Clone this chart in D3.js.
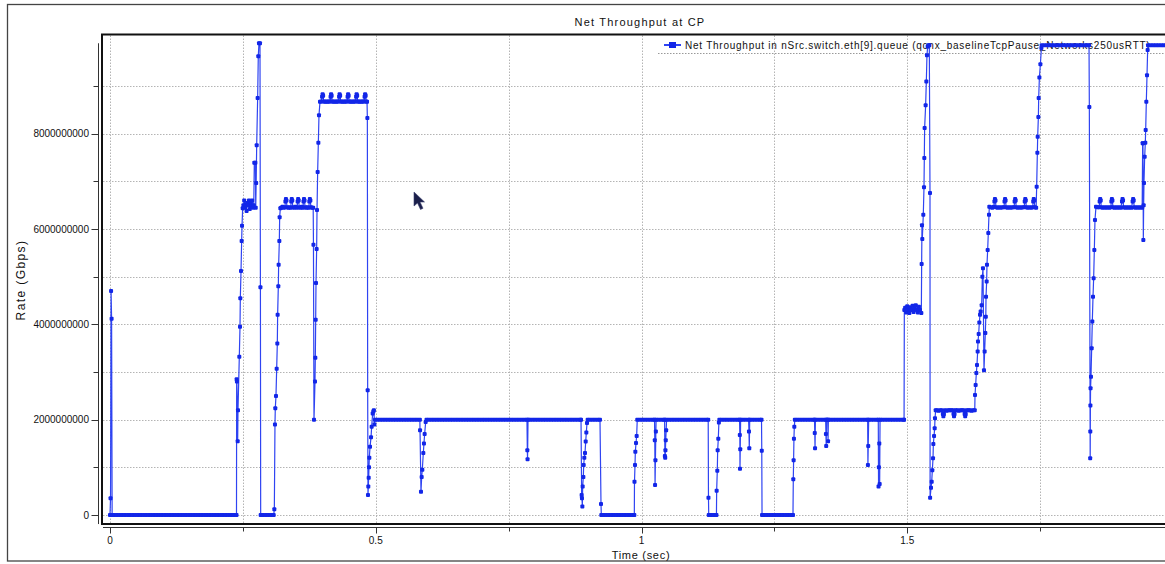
<!DOCTYPE html>
<html>
<head>
<meta charset="utf-8">
<script src="https://cdn.jsdelivr.net/npm/d3@7"></script>
<style>
  html, body { margin: 0; padding: 0; background: #fff; overflow: hidden; }
  svg { display: block; }
  text { font-family: "Liberation Sans", Arial, sans-serif; fill: #111; }
</style>
</head>
<body>
<svg id="chart" width="1165" height="564"></svg>
<script>
// Net throughput samples at the congestion point: [time (ms), rate (Gbps)]
const phaseStartup = [[0,0],[1,0.35],[2,4.7],[3,4.12],[4,0],[8,0],[13,0],[18,0],[23,0],[28,0],[33,0],[38,0],[43,0],[48,0],[53,0],[58,0],[63,0],[68,0],[73,0],[78,0],[83,0],[88,0],[93,0],[98,0],[103,0],[108,0],[113,0],[118,0],[123,0],[128,0],[133,0],[138,0],[143,0],[148,0],[153,0],[158,0],[163,0],[168,0],[173,0],[178,0],[183,0],[188,0],[193,0],[198,0],[203,0],[208,0],[213,0],[218,0],[223,0],[228,0],[233,0],[238,0]];

const phaseFirstRise = [[238.3,2.85],[238.8,2.8],[240.2,1.55],[240.8,2.2],[243.3,3.32],[244.6,3.95],[245.2,4.55],[246.5,5.12],[247.7,5.75],[248.4,6.07],[249.6,6.44],[251,6.5],[252.5,6.6],[254,6.45],[255.5,6.52],[257,6.38],[258.5,6.55],[260,6.5],[261.5,6.6],[263,6.42],[264.5,6.55],[266,6.48],[267.5,6.6],[269,6.45],[270.5,6.5],[271.5,7.39],[273.5,7.39],[274.2,6.45],[275,6.97],[276,7.76],[277.8,8.75],[279,9.63],[280.3,9.9],[282.2,9.9],[283,4.78],[283.5,0],[288,0],[293,0],[298,0],[303,0],[308,0]];

const phaseSecondRise = [[309.2,0.12],[310.4,1.9],[311,2.24],[312.3,2.5],[313.6,3.07],[314.8,3.6],[315.4,4.2],[316.7,4.8],[317.3,5.25],[318.6,5.75],[319.2,6.25],[320.5,6.44],
  [322,6.45],[324.5,6.47],[327,6.45],[329,6.46],[330,6.58],[331,6.63],[332,6.6],[333,6.46],[335.5,6.45],[338,6.46],[340,6.45],[341,6.58],[342,6.63],[343,6.6],[344,6.46],[346.5,6.45],[349,6.47],[352,6.45],[353,6.58],[354,6.63],[355,6.6],[356,6.46],[358.5,6.45],[361,6.47],[363,6.45],[364,6.58],[365,6.63],[366,6.6],[367,6.46],[369.5,6.45],[372,6.46],[374,6.45],[375,6.58],[376,6.63],[377,6.6],[378,6.46],[380.5,6.45],[382.3,6.45],
  [382.8,5.67],[383.8,2.0],[385.7,2.8],[386.3,3.3],[387,4.1],[387.6,4.87],[388.8,5.58],[389.5,6.4],[390.7,7.2],[392,7.81],[393.2,8.39],[395.1,8.67],
  [397.5,8.68],[399,8.78],[400,8.83],[401,8.8],[402,8.68],[404.5,8.67],[407,8.68],[409.5,8.67],[412,8.68],[414,8.68],[415,8.78],[416,8.83],[417,8.8],[418,8.68],[420.5,8.67],[423,8.68],[425.5,8.67],[428,8.68],[430,8.68],[431,8.78],[432,8.83],[433,8.8],[434,8.68],[436.5,8.67],[439,8.68],[441.5,8.67],[444,8.68],[446,8.68],[447,8.78],[448,8.83],[449,8.8],[450,8.68],[452.5,8.67],[455,8.68],[457.5,8.67],[460,8.68],[462,8.68],[463,8.78],[464,8.83],[465,8.8],[466,8.68],[468.5,8.67],[471,8.68],[473.5,8.67],[476,8.68],[478,8.68],[479,8.78],[480,8.83],[481,8.8],[482,8.68],[483.6,8.67],
  [484.2,8.33],[484.8,2.62],[485.4,0.42],[486,0.6],[486.7,0.78],[487.3,1.0],[487.9,1.2],[489.2,1.43],[491.1,1.63],[492.3,1.85],[494.2,2.13],[495.5,2.17],[496.5,2.2],[497.5,1.9],[498.6,2.0]];

const phaseSteady = [[503,2],[508,2],[513,2],[518,2],[523,2],[528,2],[533,2],[538,2],[543,2],[548,2],[553,2],[558,2],[563,2],[568,2],[573,2],[578,2],[583,2],
  [583.3,1.78],[585.1,0.49],[586.4,0.8],[587.6,0.95],[589.5,1.3],[590.7,1.5],[592,1.7],[593.9,1.95],[595.5,2],
  [600,2],[605,2],[610,2],[615,2],[620,2],[625,2],[630,2],[635,2],[640,2],[645,2],[650,2],[655,2],[660,2],[665,2],[670,2],[675,2],[680,2],[685,2],[690,2],[695,2],[700,2],[705,2],[710,2],[715,2],[720,2],[725,2],[730,2],[735,2],[740,2],[745,2],[750,2],[755,2],[760,2],[765,2],[770,2],[775,2],[780,2],[784.5,2],
  [785.2,1.36],[785.6,1.17],[786.5,2],
  [790,2],[795,2],[800,2],[805,2],[810,2],[815,2],[820,2],[825,2],[830,2],[835,2],[840,2],[845,2],[850,2],[855,2],[860,2],[865,2],[870,2],[875,2],[880,2],[885,2],[886.2,2],
  [887.4,0.42],[888,0.35],[888.7,0.18],[889.3,0.6],[890.6,0.8],[891.2,1.05],[892.4,1.2],[893.7,1.3],[895,1.54],[896.2,1.73],[897.5,1.93],[898.7,2],
  [903,2],[908,2],[913,2],[918,2],[921.9,2],[923.8,0.23],[924.4,0],
  [929,0],[934,0],[939,0],[944,0],[949,0],[954,0],[959,0],[964,0],[969,0],[974,0],[979,0],[984,0],[986.5,0],
  [986.8,0.7],[987.8,1.05],[988.4,1.33],[989.7,1.51],[990.9,1.66],[992,2],
  [997,2],[1002,2],[1007,2],[1012,2],[1017,2],[1022,2],[1024.5,2],
  [1025,1.57],[1025.5,0.63],[1026.2,1.15],[1027,1.75],[1027.5,2],[1032,2],[1037,2],[1042,2],[1043.5,2],
  [1044,1.24],[1044.6,1.2],[1045,1.36],[1045.6,1.57],[1046.4,1.78],[1047.2,2],
  [1052,2],[1057,2],[1062,2],[1067,2],[1072,2],[1077,2],[1082,2],[1087,2],[1092,2],[1097,2],[1102,2],[1107,2],[1112,2],[1117,2],[1122,2],[1125.5,2],
  [1126,0.36],[1126.5,0],[1131,0],[1136,0],[1141,0],
  [1141.4,0.51],[1142.6,0.93],[1143.3,1.36],[1144.5,1.6],[1145.6,1.94],[1146.5,2],
  [1151,2],[1156,2],[1161,2],[1166,2],[1171,2],[1176,2],[1181,2],[1184.5,2],
  [1185,1.68],[1185.3,0.97],[1185.8,1.38],[1186.5,2],[1191,2],[1196,2],[1201.5,2],
  [1202.2,1.75],[1202.8,1.4],[1203.6,2],[1208,2],[1213,2],[1218,2],[1223,2],[1225.8,2],
  [1226.3,1.35],[1226.8,0],[1231,0],[1236,0],[1241,0],[1246,0],[1251,0],[1256,0],[1261,0],[1266,0],[1271,0],[1276,0],[1281,0],[1285,0],
  [1285.6,0.75],[1286.2,1.15],[1286.8,1.6],[1287.5,1.85],[1288.5,2],
  [1293,2],[1298,2],[1303,2],[1308,2],[1313,2],[1318,2],[1323,2],[1325.5,2],[1326,1.72],[1326.5,1.4],[1327.2,2],
  [1332,2],[1337,2],[1342,2],[1346.5,2],[1347,1.7],[1347.5,1.45],[1348.2,2],[1350.5,2],[1351,1.55],[1351.6,2],
  [1356,2],[1361,2],[1366,2],[1371,2],[1376,2],[1381,2],[1386,2],[1391,2],[1396,2],[1401,2],[1406,2],[1411,2],[1416,2],[1421,2],[1425.5,2],
  [1426,1.05],[1426.6,1.45],[1427.4,2],[1432,2],[1437,2],[1442,2],[1445.5,2],
  [1446,0.6],[1446.6,1.0],[1447.4,1.5],[1448.1,0.65],[1448.8,2],
  [1453,2],[1458,2],[1463,2],[1468,2],[1473,2],[1478,2],[1483,2],[1488,2],[1493,2],[1494,2]];

const phaseLate = [[1494.5,4.3],[1496,4.35],[1498,4.25],[1500,4.38],[1502,4.3],[1504,4.24],[1506,4.36],[1508,4.3],[1510,4.39],[1512,4.26],[1514,4.33],[1516,4.4],[1518,4.3],[1520,4.25],[1522,4.37],[1524,4.3],[1526.5,4.24],
  [1527.1,5.27],[1527.7,6.08],[1528.3,5.79],[1530.2,6.3],[1531.5,6.88],[1532.1,7.49],[1532.7,8.12],[1534.6,8.6],[1535.9,9.1],[1537.1,9.65],[1538.4,9.83],[1540.3,9.86],[1541.5,9.86],
  [1542.8,6.76],[1543,0.36],[1544.7,0.57],[1546,0.7],[1547.2,0.94],[1548.5,1.19],[1549.1,1.49],[1550.4,1.66],[1551.6,1.82],[1552.2,2.03],[1553.5,2.2],
  [1556,2.2],[1559,2.19],[1562,2.2],[1565,2.2],[1567,2.12],[1568,2.07],[1569,2.12],[1571,2.2],[1574,2.19],[1577,2.2],[1580,2.2],[1583,2.2],[1586,2.2],[1587,2.12],[1588,2.07],[1589,2.12],[1591,2.2],[1594,2.2],[1597,2.19],[1600,2.2],[1603,2.2],[1606,2.2],[1608,2.12],[1609,2.07],[1610,2.12],[1612,2.2],[1615,2.2],[1618,2.2],[1621,2.19],[1624,2.2],[1627,2.2],
  [1627.5,2.52],[1628.7,2.73],[1630,2.98],[1631.2,3.15],[1632.5,3.43],[1633.1,3.64],[1634.4,3.8],[1635.6,4.04],[1636.9,4.2],[1638.1,4.27],[1640,4.4],[1641.3,5.0],[1642.5,5.18],[1644.4,3.04],[1645.6,3.43],[1646.9,3.82],[1647.8,4.16],[1648.2,4.58],[1649.4,4.9],[1650,5.25],[1651.3,5.56],[1652.5,5.92],[1653.8,6.3],[1654.4,6.47],
  [1657,6.46],[1660,6.45],[1663,6.47],[1664,6.58],[1665,6.63],[1666,6.6],[1667,6.46],[1670,6.45],[1673,6.46],[1676,6.45],[1679,6.46],[1682,6.46],[1683,6.58],[1684,6.63],[1685,6.6],[1686,6.46],[1689,6.45],[1692,6.46],[1695,6.45],[1698,6.46],[1701,6.46],[1702,6.58],[1703,6.63],[1704,6.6],[1705,6.46],[1708,6.45],[1711,6.46],[1714,6.45],[1717,6.46],[1720,6.46],[1721,6.58],[1722,6.63],[1723,6.6],[1724,6.46],[1727,6.45],[1730,6.46],[1733,6.45],[1736,6.46],[1737,6.58],[1738,6.63],[1739,6.6],[1740,6.46],[1742.5,6.45],
  [1743.5,6.89],[1744.8,7.6],[1745.4,7.94],[1746.7,8.35],[1747.3,8.75],[1748.6,9.18],[1750.5,9.46],[1752.4,9.8],[1753,9.86],
  [1758,9.86],[1763,9.86],[1768,9.86],[1773,9.86],[1778,9.86],[1783,9.86],[1788,9.86],[1793,9.86],[1798,9.86],[1803,9.86],[1808,9.86],[1813,9.86],[1818,9.86],[1823,9.86],[1828,9.86],[1833,9.86],[1838,9.86],[1842,9.86],
  [1842.6,8.56],[1844.2,1.19],[1844.4,1.75],[1844.6,2.3],[1844.9,2.66],[1845.7,2.9],[1847,3.5],[1848.2,4.06],[1849.5,4.58],[1850.7,4.97],[1852,5.56],[1853.2,6.19],[1855.1,6.47],
  [1858,6.46],[1861,6.46],[1862,6.58],[1863,6.63],[1864,6.6],[1865,6.46],[1868,6.45],[1871,6.46],[1874,6.45],[1877,6.46],[1880,6.45],[1883,6.46],[1884,6.58],[1885,6.63],[1886,6.6],[1887,6.46],[1890,6.45],[1893,6.46],[1896,6.45],[1899,6.46],[1902,6.45],[1904,6.58],[1905,6.63],[1906,6.6],[1907,6.46],[1910,6.45],[1913,6.46],[1916,6.45],[1919,6.46],[1922,6.45],[1924,6.58],[1925,6.63],[1926,6.6],[1927,6.46],[1930,6.45],[1933,6.46],[1936,6.45],[1939,6.46],[1942,6.45],
  [1942.9,7.8],[1943.5,7.8],[1944.2,5.77],[1944.8,6.5],[1945.4,6.97],[1946.7,7.52],[1947.9,7.81],[1948.6,8.08],[1949.8,8.67],[1951.1,9.23],[1952.3,9.76],[1953,9.86],
  [1958,9.86],[1963,9.86],[1968,9.86],[1973,9.86],[1978,9.86],[1983,9.86],[1988,9.86],[1993,9.86]];

// Axis ticks and labels
const xMajorTicks = [0, 500, 1000, 1500];
const xMajorLabels = ["0", "0.5", "1", "1.5"];
const xMinorTicks = [250, 750, 1250, 1750];
const yMajorTicks = [0, 2, 4, 6, 8];
const yMajorLabels = ["0", "2000000000", "4000000000", "6000000000", "8000000000"];
const yMinorTicks = [1, 3, 5, 7, 9];
const yGridLevels = [0, 1, 2, 3, 4, 5, 6, 7, 8, 9];
const xGridTimes = [0, 250, 500, 750, 1000, 1250, 1500, 1750];

const chartTitle = "Net Throughput at CP";
const seriesName = "Net Throughput in nSrc.switch.eth[9].queue (qcnx_baselineTcpPause_Networks250usRTT)";
const xTitle = "Time (sec)";
const yTitle = "Rate (Gbps)";

const series = [].concat(phaseStartup, phaseFirstRise, phaseSecondRise, phaseSteady, phaseLate);

// ---- layout ----
const svg = d3.select("#chart");
const plot = { left: 102, top: 34.5, right: 1200, bottom: 524 };
const x = d3.scaleLinear().domain([0, 2000]).range([110, 1173]);
const y = d3.scaleLinear().domain([0, 10]).range([515, 38.5]);
const axisExtent = [-0.19, 9.9];

const lineColor = "#2f44f2";
const markColor = "#1226e8";

// outer panel border
svg.append("rect")
  .attr("x", 7.5).attr("y", 4.5).attr("width", 1175).attr("height", 556.5)
  .attr("fill", "none").attr("stroke", "#444").attr("stroke-width", 1.3);

// title
svg.append("text")
  .attr("x", 640).attr("y", 25.5).attr("text-anchor", "middle")
  .style("font-size", "11px").style("letter-spacing", "1.2px")
  .text(chartTitle);

// grid
const grid = svg.append("g").attr("stroke", "#b4b4b4").attr("stroke-width", 1).attr("stroke-dasharray", "1.5,1.5");
grid.selectAll("line.h").data(yGridLevels).join("line")
  .attr("x1", plot.left + 1).attr("x2", plot.right)
  .attr("y1", d => Math.round(y(d)) + 0.5).attr("y2", d => Math.round(y(d)) + 0.5);
grid.selectAll("line.v").data(xGridTimes).join("line")
  .attr("y1", plot.top + 1).attr("y2", plot.bottom - 1)
  .attr("x1", d => Math.round(x(d)) + 0.5).attr("x2", d => Math.round(x(d)) + 0.5);

// legend (sits under the data)
const legend = svg.append("g");
legend.append("line").attr("x1", 658).attr("x2", 1200).attr("y1", 53.5).attr("y2", 53.5)
  .attr("stroke", "#999").attr("stroke-dasharray", "1.5,1.5");
legend.append("line").attr("x1", 664).attr("x2", 681).attr("y1", 45).attr("y2", 45)
  .attr("stroke", lineColor).attr("stroke-width", 2);
legend.append("rect").attr("x", 669).attr("y", 42).attr("width", 7).attr("height", 6)
  .attr("fill", markColor);
legend.append("text").attr("x", 685).attr("y", 48.5)
  .style("font-size", "10px").style("letter-spacing", "0.75px")
  .text(seriesName);

// data
svg.append("clipPath").attr("id", "plotClip").append("rect")
  .attr("x", plot.left + 1).attr("y", plot.top + 1)
  .attr("width", plot.right - plot.left).attr("height", plot.bottom - plot.top - 2);
const dataLayer = svg.append("g").attr("clip-path", "url(#plotClip)");
dataLayer.append("path")
  .datum(series)
  .attr("fill", "none").attr("stroke", lineColor).attr("stroke-width", 1.2)
  .attr("stroke-linejoin", "round")
  .attr("d", d3.line().x(d => x(d[0])).y(d => y(d[1])));
dataLayer.selectAll("rect.pt").data(series).join("rect")
  .attr("class", "pt")
  .attr("x", d => x(d[0]) - 2).attr("y", d => y(d[1]) - 2)
  .attr("width", 4).attr("height", 4).attr("rx", 1)
  .attr("fill", markColor);

// plot frame
svg.append("rect")
  .attr("x", plot.left).attr("y", plot.top)
  .attr("width", plot.right - plot.left).attr("height", plot.bottom - plot.top)
  .attr("fill", "none").attr("stroke", "#111").attr("stroke-width", 2);

// y axis
const yAxisX = 98.5;
const yAxis = svg.append("g").attr("stroke", "#333");
yAxis.append("line").attr("x1", yAxisX).attr("x2", yAxisX)
  .attr("y1", y(axisExtent[1])).attr("y2", y(axisExtent[0]));
yAxis.selectAll("line.maj").data(yMajorTicks).join("line")
  .attr("x1", yAxisX - 7).attr("x2", yAxisX)
  .attr("y1", d => Math.round(y(d)) + 0.5).attr("y2", d => Math.round(y(d)) + 0.5);
yAxis.selectAll("line.min").data(yMinorTicks).join("line")
  .attr("x1", yAxisX - 5).attr("x2", yAxisX)
  .attr("y1", d => Math.round(y(d)) + 0.5).attr("y2", d => Math.round(y(d)) + 0.5);
svg.append("g").selectAll("text").data(yMajorTicks).join("text")
  .attr("x", 89).attr("y", d => y(d)).attr("dy", "0.36em")
  .attr("text-anchor", "end").style("font-size", "10px")
  .text((d, i) => yMajorLabels[i]);
svg.append("text")
  .attr("transform", "translate(25,280) rotate(-90)")
  .attr("text-anchor", "middle").style("font-size", "12px").style("letter-spacing", "1.4px")
  .text(yTitle);

// x axis
const xAxisY = 527.5;
const xAxis = svg.append("g").attr("stroke", "#333");
xAxis.append("line").attr("x1", 103).attr("x2", 1200).attr("y1", xAxisY).attr("y2", xAxisY);
xAxis.selectAll("line.maj").data(xMajorTicks).join("line")
  .attr("y1", xAxisY).attr("y2", xAxisY + 6)
  .attr("x1", d => Math.round(x(d)) + 0.5).attr("x2", d => Math.round(x(d)) + 0.5);
xAxis.selectAll("line.min").data(xMinorTicks).join("line")
  .attr("y1", xAxisY).attr("y2", xAxisY + 4)
  .attr("x1", d => Math.round(x(d)) + 0.5).attr("x2", d => Math.round(x(d)) + 0.5);
svg.append("g").selectAll("text").data(xMajorTicks).join("text")
  .attr("x", d => x(d)).attr("y", 543.5).attr("text-anchor", "middle")
  .style("font-size", "10px")
  .text((d, i) => xMajorLabels[i]);
svg.append("text")
  .attr("x", 641).attr("y", 558.5).attr("text-anchor", "middle")
  .style("font-size", "11px").style("letter-spacing", "0.7px")
  .text(xTitle);

// pointer glyph resting over the plot
svg.append("path")
  .attr("d", "M414,192 L414,206 L417.5,203 L420.5,209.5 L423,208.3 L420,202 L424.5,202 Z")
  .attr("fill", "#1b1f4a").attr("stroke", "#3a3f70").attr("stroke-width", 0.6);
</script>
</body>
</html>
